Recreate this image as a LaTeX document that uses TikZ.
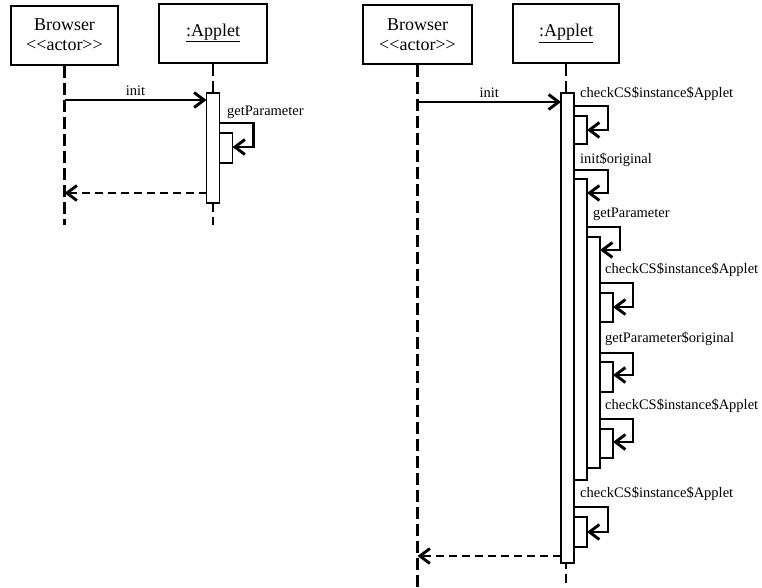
\documentclass[tikz,border=0pt]{standalone}
\usepackage{fontspec}
\setmainfont{Liberation Serif}
\usetikzlibrary{arrows.meta,positioning}
\tikzset{%
  lifebox/.style  = {shape=rectangle, draw, line width=2pt, align=center,%
                     minimum height=59pt, font=\fontsize{18}{20}\selectfont},%
  lifeline/.style = {line width=2.8pt, dash pattern=on 12pt off 5pt},%
  actbar/.style   = {shape=rectangle, draw, fill=white, line width=1.3pt,%
                     minimum width=13pt, inner sep=0pt, outer sep=0pt, anchor=north west},%
  call/.style     = {line width=2.9pt, -{Straight Barb[length=10pt,width=15pt]}},%
  reply/.style    = {call, dash pattern=on 8pt off 5pt},%
  msg/.style      = {font=\fontsize{14.5}{16}\selectfont, inner sep=0pt, anchor=base west}%
}

\begin{document}
\begin{tikzpicture}[x=1pt, y=-1pt]%
	\useasboundingbox (0,0) rectangle (762,587);
	% plain call
	\begin{scope}
		\node[lifebox, minimum width=107pt] (brw1) at (64.5,35) {Browser\\<\kern0pt<actor>\kern0pt>};%
		\node[lifebox, minimum width=108pt] (app1) at (213,33) {\raisebox{-3pt}{\underline{:Applet}}};%
		\draw[lifeline] (brw1.south) -- (brw1 |- 0,225);%
		\draw[lifeline] (app1.south) -- (app1 |- 0,225);%
		\node[actbar, minimum height=110pt] (a1) at (206.5,93) {};%
		\node[actbar, minimum height=30pt] (a1n) at (a1.east |- 0,133) {};%
		\draw[call] (brw1 |- 0,100) -- node[msg, anchor=south, above=3pt] (lbl1) {init} (a1.west |- 0,100);%
		\node[msg] (lbl2) at (227,115) {getParameter};%
		\draw[call] (a1.east |- 0,123) -- ++(34,0) |- (a1n.east |- 0,147);%
		\draw[reply] (a1.west |- 0,193) -- (brw1 |- 0,193);%
	\end{scope}
	% woven call
	\begin{scope}
		\node[lifebox, minimum width=109pt] (brw2) at (417.5,34.5) {Browser\\<\kern0pt<actor>\kern0pt>};%
		\node[lifebox, minimum width=106pt] (app2) at (566,33.5) {\raisebox{-3pt}{\underline{:Applet}}};%
		\draw[lifeline] (brw2.south) -- (brw2 |- 0,587);%
		\draw[lifeline] (app2.south) -- (app2 |- 0,583);%
		\node[actbar, minimum height=470pt] (b0) at (561,93) {};%
		\node[actbar, minimum height=28pt]  (b1) at (b0.east |- 0,116) {};%
		\node[actbar, minimum height=301pt] (b2) at (b0.east |- 0,179) {};%
		\node[actbar, minimum height=231pt] (b3) at (b2.east |- 0,237) {};%
		\node[actbar, minimum height=29pt]  (b4) at (b3.east |- 0,293) {};%
		\node[actbar, minimum height=30pt]  (b5) at (b3.east |- 0,362) {};%
		\node[actbar, minimum height=29pt]  (b6) at (b3.east |- 0,429) {};%
		\node[actbar, minimum height=30pt]  (b7) at (b0.east |- 0,517) {};%
		\draw[call] (brw2 |- 0,102) -- node[msg, anchor=south, above=3pt] (lbl3) {init} (b0.west |- 0,102);%
		\node[msg] (lbl4)  at (580,97)  {checkCS\$instance\$Applet};%
		\draw[call] (b0.east |- 0,106) -- ++(34,0) |- (b1.east |- 0,130);%
		\node[msg] (lbl5)  at (580,163) {init\$original};%
		\draw[call] (b0.east |- 0,170) -- ++(34,0) |- (b2.east |- 0,193);%
		\node[msg] (lbl6)  at (593,217) {getParameter};%
		\draw[call] (b2.east |- 0,227) -- ++(33,0) |- (b3.east |- 0,250);%
		\node[msg] (lbl7)  at (605,273) {checkCS\$instance\$Applet};%
		\draw[call] (b3.east |- 0,283) -- ++(33,0) |- (b4.east |- 0,307);%
		\node[msg] (lbl8)  at (605,342) {getParameter\$original};%
		\draw[call] (b3.east |- 0,353) -- ++(33,0) |- (b5.east |- 0,375);%
		\node[msg] (lbl9)  at (605,409) {checkCS\$instance\$Applet};%
		\draw[call] (b3.east |- 0,419) -- ++(33,0) |- (b6.east |- 0,442);%
		\node[msg] (lbl10) at (580,497) {checkCS\$instance\$Applet};%
		\draw[call] (b0.east |- 0,507) -- ++(34,0) |- (b7.east |- 0,532);%
		\draw[reply] (b0.west |- 0,556) -- (brw2 |- 0,556);%
	\end{scope}
\end{tikzpicture}
\end{document}
